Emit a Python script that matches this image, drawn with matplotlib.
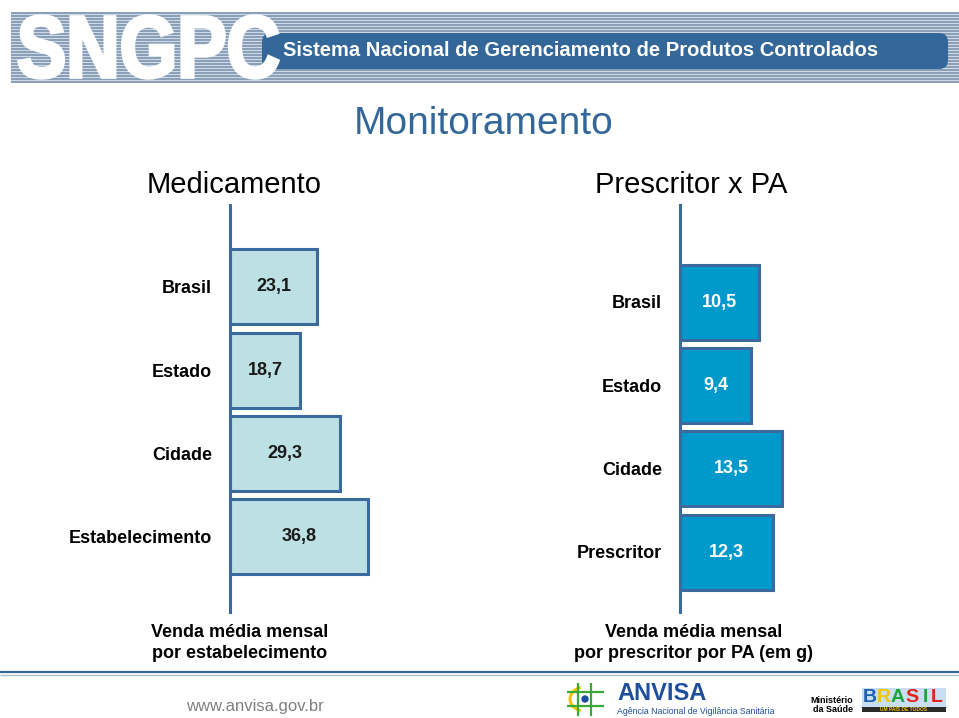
import numpy as np
import matplotlib
matplotlib.use('Agg')
import matplotlib.pyplot as plt
from matplotlib.patches import Rectangle, FancyBboxPatch, PathPatch, Arc, Circle
from matplotlib.textpath import TextPath
from matplotlib.font_manager import FontProperties
from matplotlib.transforms import Affine2D

# dados
med_labels = ['Brasil', 'Estado', 'Cidade', 'Estabelecimento']
med_values = [23.1, 18.7, 29.3, 36.8]
med_text = ['23,1', '18,7', '29,3', '36,8']

pres_labels = ['Brasil', 'Estado', 'Cidade', 'Prescritor']
pres_values = [10.5, 9.4, 13.5, 12.3]
pres_text = ['10,5', '9,4', '13,5', '12,3']

plt.rcParams['font.family'] = ['Liberation Sans', 'DejaVu Sans']

W, H = 959, 718
fig = plt.figure(figsize=(W / 100, H / 100), dpi=100)
fig.patch.set_facecolor('white')

# camada de decoracao em pixels (y a partir do topo -> H - y)
deco = fig.add_axes([0, 0, 1, 1], zorder=0)
deco.set_xlim(0, W)
deco.set_ylim(0, H)
deco.axis('off')


def py(y):
    return H - y


# faixa listrada do cabecalho
deco.add_patch(Rectangle((11, py(83)), W - 11, 71, color='#d3dce6', lw=0, zorder=0.5))
ys = np.arange(13, 83, 3)
deco.hlines(py(ys), 11, W, color='#8aa0b9', lw=1.45, zorder=1)

# faixa azul
deco.add_patch(FancyBboxPatch((262, py(69)), 686, 36, boxstyle='round,pad=0,rounding_size=9',
                              color='#336699', lw=0, zorder=2))
deco.text(283, py(50), 'Sistema Nacional de Gerenciamento de Produtos Controlados',
          color='white', fontsize=14.5, fontweight='bold', ha='left', va='center', zorder=4)

# SNGPC em letras brancas condensadas
tp = TextPath((0, 0), 'SNGPC', size=1, prop=FontProperties(family='Liberation Sans', weight='bold'))
ext = tp.get_extents()
sx = (278 - 19) / ext.width
sy = (78 - 16) / ext.height
tr = Affine2D().translate(-ext.x0, -ext.y0).scale(sx, sy).translate(19, py(78)) + deco.transData
deco.add_patch(PathPatch(tp, transform=tr, facecolor='white', edgecolor='white', lw=2.5, zorder=3))

# titulos
deco.text(484, py(124), 'Monitoramento', color='#336699', fontsize=28, ha='center', va='center')
deco.text(234, py(185), 'Medicamento', color='black', fontsize=21, ha='center', va='center')
deco.text(691, py(185), 'Prescritor x PA', color='black', fontsize=21, ha='center', va='center')

# rotulos do eixo x
deco.text(240, py(643), 'Venda média mensal\npor estabelecimento', fontsize=13, fontweight='bold',
          ha='center', va='center', linespacing=1.25)
deco.text(694, py(643), 'Venda média mensal\npor prescritor por PA (em g)', fontsize=13,
          fontweight='bold', ha='center', va='center', linespacing=1.25)

# rodape
deco.hlines(py(672), 0, W, color='#336699', lw=1.6)
deco.hlines(py(675), 0, W, color='#a9bdd3', lw=1.0)
deco.text(255, py(706), 'www.anvisa.gov.br', color='#808080', fontsize=12, ha='center', va='center')

# logo ANVISA (aproximado)
deco.vlines([578, 591], py(716), py(683), color='#3aa935', lw=1.6)
deco.hlines([py(692), py(706)], 567, 604, color='#3aa935', lw=1.6)
deco.add_patch(Arc((585, py(699)), 30, 24, theta1=110, theta2=250, color='#f2c500', lw=2.2))
deco.add_patch(Circle((585, py(699)), 3, color='#1e4f9c'))
deco.text(617, py(694), 'ANVISA', color='#1e4f9c', fontsize=17, fontweight='bold', ha='left', va='center')
deco.text(617, py(711), 'Agência Nacional de Vigilância Sanitária', color='#1e4f9c', fontsize=6.3,
          ha='left', va='center')

# Ministerio da Saude
deco.text(853, py(705), 'Ministério\nda Saúde', color='black', fontsize=6.5, fontweight='bold',
          ha='right', va='center', linespacing=1.1)

# logo Brasil (aproximado)
deco.add_patch(Rectangle((862, py(712)), 84, 24, color='#c8def2', lw=0))
bx = [870, 884, 898, 912, 925, 937]
bc = ['#1f5fb0', '#f5c400', '#1fa33a', '#e2231a', '#1fa33a', '#e2231a']
for x, c, ch in zip(bx, bc, 'BRASIL'):
    deco.text(x, py(698), ch, color=c, fontsize=14, fontweight='bold', ha='center', va='center')
deco.add_patch(Rectangle((862, py(712)), 84, 5, color='#2a2a2a', lw=0))
deco.text(904, py(709.5), 'UM PAÍS DE TODOS', color='#f5c400', fontsize=3.5, fontweight='bold',
          ha='center', va='center')

edge = '#3b6a9f'


def draw(rect, labels, values, texts, xmax, ylim, fill, tcolor):
    ax = fig.add_axes(rect, zorder=2)
    ax.set_facecolor('none')
    pos = np.arange(len(values))
    ax.barh(pos, values, height=0.9, color=fill, edgecolor=edge, linewidth=2.2)
    for p, v, t in zip(pos, values, texts):
        ax.text(v / 2, p, t, ha='center', va='center', fontsize=13, fontweight='bold', color=tcolor)
    ax.set_xlim(0, xmax)
    ax.set_ylim(*ylim)
    ax.set_yticks(pos)
    ax.set_yticklabels(labels, fontsize=13, fontweight='bold')
    ax.tick_params(axis='y', length=0, pad=13)
    ax.set_xticks([])
    for s in ['top', 'right', 'bottom']:
        ax.spines[s].set_visible(False)
    ax.spines['left'].set_color(edge)
    ax.spines['left'].set_linewidth(2.2)
    return ax


ax_b = (H - 612) / H
ax_h = 407 / H
draw([230 / W, ax_b, 190 / W, ax_h], med_labels, med_values, med_text, 50.5, (3.9, -0.98),
     '#bce0e3', '#1a1a1a')
draw([680 / W, ax_b, 190 / W, ax_h], pres_labels, pres_values, pres_text, 25.2, (3.72, -1.164),
     '#0099cc', 'white')

fig.savefig('out.png', dpi=100)
